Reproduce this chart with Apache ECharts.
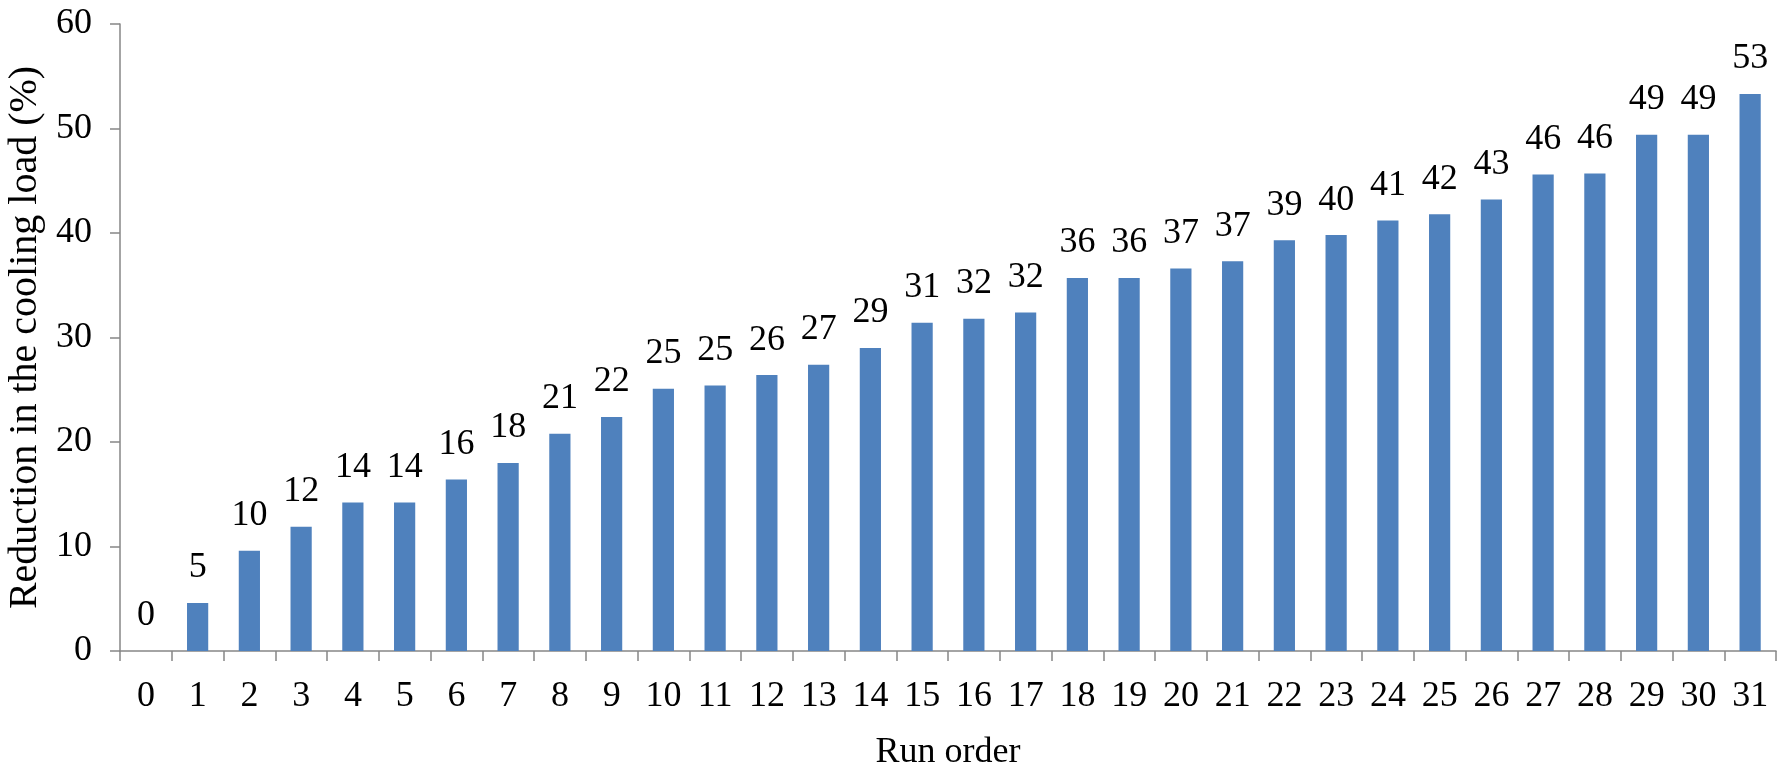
<!DOCTYPE html>
<html>
<head>
<meta charset="utf-8">
<title>Reduction in the cooling load by run order</title>
<script src="https://cdn.jsdelivr.net/npm/echarts@6/dist/echarts.min.js"></script>
<style>
  html, body { margin: 0; padding: 0; background: #ffffff; }
  #chart { width: 1787px; height: 776px; }
</style>
</head>
<body>
<div id="chart"></div>
<script>
// Run order categories (x axis)
const runOrder = ['0','1','2','3','4','5','6','7','8','9','10','11','12','13','14','15',
                  '16','17','18','19','20','21','22','23','24','25','26','27','28','29','30','31'];

// Reduction in the cooling load (%) for each run
const reduction = [0, 4.6, 9.6, 11.9, 14.2, 14.2, 16.4, 18.0, 20.8, 22.4, 25.1, 25.4, 26.4, 27.4, 29.0, 31.4,
                   31.8, 32.4, 35.7, 35.7, 36.6, 37.3, 39.3, 39.8, 41.2, 41.8, 43.2, 45.6, 45.7, 49.4, 49.4, 53.3];

// Y axis range and step
const yMin = 0;
const yMax = 60;
const yStep = 10;

const serif = '"Liberation Serif", "Times New Roman", serif';
const axisGray = '#868686';

const chart = echarts.init(document.getElementById('chart'), null, { renderer: 'canvas' });

chart.setOption({
  animation: false,
  backgroundColor: '#ffffff',
  grid: {
    left: 120, right: 11, top: 24, bottom: 125,
    containLabel: false,
    outerBoundsMode: 'none'
  },
  xAxis: {
    type: 'category',
    data: runOrder,
    boundaryGap: true,
    name: 'Run order',
    nameLocation: 'middle',
    nameGap: 84,
    nameTextStyle: { fontFamily: serif, fontSize: 36, color: '#000' },
    axisLine: { show: true, lineStyle: { color: axisGray, width: 1.5 } },
    axisTick: { show: true, alignWithLabel: false, length: 10, lineStyle: { color: axisGray, width: 1.5 } },
    axisLabel: { fontFamily: serif, fontSize: 36, color: '#000', margin: 28, interval: 0 },
    splitLine: { show: false }
  },
  yAxis: {
    type: 'value',
    min: yMin,
    max: yMax,
    interval: yStep,
    name: 'Reduction in the cooling load (%)',
    nameLocation: 'middle',
    nameGap: 71,
    nameTextStyle: { fontFamily: serif, fontSize: 40, color: '#000' },
    axisLine: { show: true, lineStyle: { color: axisGray, width: 1.5 } },
    axisTick: { show: true, inside: false, length: 10, lineStyle: { color: axisGray, width: 1.5 } },
    axisLabel: { fontFamily: serif, fontSize: 36, color: '#000', margin: 28 },
    splitLine: { show: false }
  },
  series: [{
    type: 'bar',
    data: reduction,
    barWidth: '41%',
    itemStyle: { color: '#4F81BD' },
    label: {
      show: true,
      position: 'top',
      distance: 17,
      fontFamily: serif,
      fontSize: 36,
      color: '#000',
      formatter: p => String(Math.round(p.value))
    }
  }]
});
</script>
</body>
</html>
